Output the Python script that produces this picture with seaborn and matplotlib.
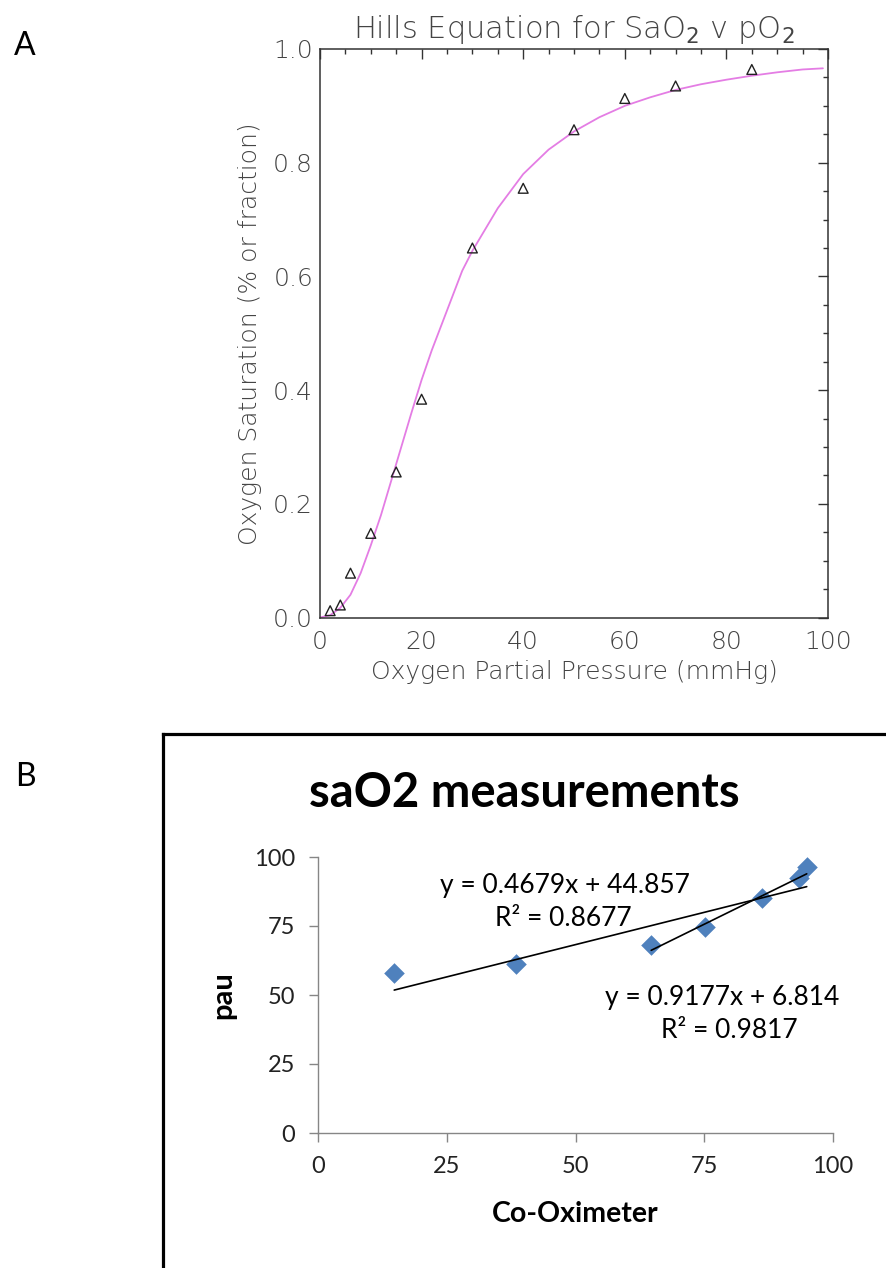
import numpy as np
import pandas as pd
import matplotlib
matplotlib.use("Agg")
import matplotlib.pyplot as plt
from matplotlib.ticker import MultipleLocator
from matplotlib.lines import Line2D
import seaborn as sns

# ---------------- data: panel A ----------------
hill_pO2 = [2, 4, 6, 10, 15, 20, 30, 40, 50, 60, 70, 85]
hill_sat = [0.012, 0.022, 0.078, 0.148, 0.256, 0.384, 0.650, 0.755, 0.858, 0.913, 0.935, 0.964]
curve_pO2 = [0, 2, 4, 6, 8, 10, 12, 14, 16, 18, 20, 22, 25, 28, 30, 35, 40, 45,
             50, 55, 60, 65, 70, 75, 80, 85, 90, 95, 99]
curve_sat = [0.0, 0.004, 0.017, 0.040, 0.078, 0.127, 0.180, 0.240, 0.300, 0.360,
             0.418, 0.470, 0.540, 0.610, 0.645, 0.720, 0.780, 0.823, 0.855, 0.880,
             0.900, 0.915, 0.928, 0.938, 0.946, 0.953, 0.959, 0.964, 0.966]
a_xticks = [0, 20, 40, 60, 80, 100]
a_yticks = [0.0, 0.2, 0.4, 0.6, 0.8, 1.0]

# ---------------- data: panel B ----------------
coox = [14.8, 38.5, 64.7, 75.2, 86.3, 93.4, 94.9]
pau = [58.1, 61.2, 68.0, 74.7, 85.2, 92.4, 96.5]
fit_slope = [0.4679, 0.9177]
fit_intercept = [44.857, 6.814]
fit_r2 = [0.8677, 0.9817]
fit_xrange = [(14.8, 94.9), (64.7, 94.9)]
b_ticks = [0, 25, 50, 75, 100]

sns.set_theme(style="white")
plt.rcParams['font.family'] = ['DejaVu Sans']

W, H = 887, 1268
fig = plt.figure(figsize=(W / 100, H / 100), dpi=100)

def fx(px):
    return px / W

def fy(py):
    return 1 - py / H

# ---------------- Panel A ----------------
axA = fig.add_axes([fx(320), fy(617.5), (828 - 320) / W, (617.5 - 49) / H])
dfc = pd.DataFrame({"pO2": curve_pO2, "sat": curve_sat})
sns.lineplot(data=dfc, x="pO2", y="sat", ax=axA, color="#e47de4", lw=1.3,
             sort=False, estimator=None)
dfp = pd.DataFrame({"pO2": hill_pO2, "sat": hill_sat})
sns.scatterplot(data=dfp, x="pO2", y="sat", ax=axA, marker="^", s=50,
                facecolor="none", edgecolor="#222222", linewidth=1.0, zorder=3)
axA.set_xlim(0, 100)
axA.set_ylim(0, 1.0)
axA.set_xticks(a_xticks)
axA.set_yticks(a_yticks)
axA.set_xticklabels([str(v) for v in a_xticks])
axA.set_yticklabels([f"{v:.1f}" for v in a_yticks])
axA.xaxis.set_minor_locator(MultipleLocator(5))
axA.yaxis.set_minor_locator(MultipleLocator(0.05))
tcol = "#444444"
axA.tick_params(which="both", direction="in", top=True, right=True,
                color="#333333", labelcolor=tcol, labelsize=18)
axA.tick_params(which="major", length=7, width=1.0)
axA.tick_params(which="minor", length=3.5, width=1.0)
axA.tick_params(axis="x", which="major", pad=9)
axA.tick_params(axis="y", which="major", pad=5)
for s in axA.spines.values():
    s.set_color("#333333")
    s.set_linewidth(1.1)
    s.set_visible(True)
axA.set_xlabel("Oxygen Partial Pressure (mmHg)", fontsize=18, color=tcol, labelpad=4)
axA.set_ylabel("Oxygen Saturation (% or fraction)", fontsize=18, color=tcol, labelpad=8)
axA.set_title(r"Hills Equation for SaO$_2$ v pO$_2$", fontsize=22, color=tcol, pad=8)
for lab in axA.get_xticklabels() + axA.get_yticklabels():
    lab.set_fontweight("light")
axA.xaxis.label.set_fontweight("light")
axA.yaxis.label.set_fontweight("light")
axA.title.set_fontweight("light")

# ---------------- Panel B ----------------
axB = fig.add_axes([fx(318), fy(1133), (833 - 318) / W, (1133 - 857) / H])
dfb = pd.DataFrame({"Co-Oximeter": coox, "pau": pau})
sns.scatterplot(data=dfb, x="Co-Oximeter", y="pau", ax=axB, marker="D", s=110,
                color="#4f81bd", edgecolor="#4f81bd", linewidth=0, zorder=3)
for m, b, (x0, x1) in zip(fit_slope, fit_intercept, fit_xrange):
    dfl = pd.DataFrame({"x": [x0, x1], "y": [m * x0 + b, m * x1 + b]})
    sns.lineplot(data=dfl, x="x", y="y", ax=axB, color="black", lw=1.2,
                 estimator=None, zorder=4)
axB.set_xlim(0, 100)
axB.set_ylim(0, 100)
axB.set_xticks(b_ticks)
axB.set_yticks(b_ticks)
bfont = "Lato"
axB.set_xticklabels([str(v) for v in b_ticks], fontfamily=bfont, fontsize=17)
axB.set_yticklabels([str(v) for v in b_ticks], fontfamily=bfont, fontsize=17)
axB.tick_params(which="major", direction="out", length=6.5, width=1.0,
                color="#868686", labelcolor="#222222", pad=10,
                bottom=True, left=True)
for side in ("top", "right"):
    axB.spines[side].set_visible(False)
for side in ("left", "bottom"):
    axB.spines[side].set_color("#868686")
    axB.spines[side].set_linewidth(1.0)
axB.set_xlabel("Co-Oximeter", fontfamily=bfont, fontweight="bold", fontsize=20.5,
               color="black", labelpad=17)
axB.set_ylabel("pau", fontfamily=bfont, fontweight="bold", fontsize=21,
               color="black", labelpad=13)

# equations
eq_pos = [((565, 886), (563, 918)), ((722, 998), (729, 1031))]
for (m, b, r2), (p1, p2) in zip(zip(fit_slope, fit_intercept, fit_r2), eq_pos):
    fig.text(fx(p1[0]), fy(p1[1]), f"y = {m}x + {b}", ha="center", va="center",
             fontfamily=bfont, fontsize=19, color="black")
    fig.text(fx(p2[0]), fy(p2[1]), f"R\u00b2 = {r2}", ha="center", va="center",
             fontfamily=bfont, fontsize=19, color="black")

fig.text(fx(524), fy(793), "saO2 measurements", ha="center", va="center",
         fontfamily=bfont, fontweight="bold", fontsize=34, color="black")

# outer frame of panel B (cut at right/bottom)
fig.add_artist(Line2D([fx(163), fx(163)], [fy(734), -0.01], color="black", lw=2.3,
                      transform=fig.transFigure, solid_capstyle="projecting"))
fig.add_artist(Line2D([fx(163), 1.01], [fy(734), fy(734)], color="black", lw=2.3,
                      transform=fig.transFigure, solid_capstyle="projecting"))

# panel letters
fig.text(fx(25), fy(46), "A", ha="center", va="center", fontfamily=bfont,
         fontsize=23, color="black")
fig.text(fx(25), fy(777), "B", ha="center", va="center", fontfamily=bfont,
         fontsize=23, color="black")

fig.savefig("out.png", dpi=100, facecolor="white")
